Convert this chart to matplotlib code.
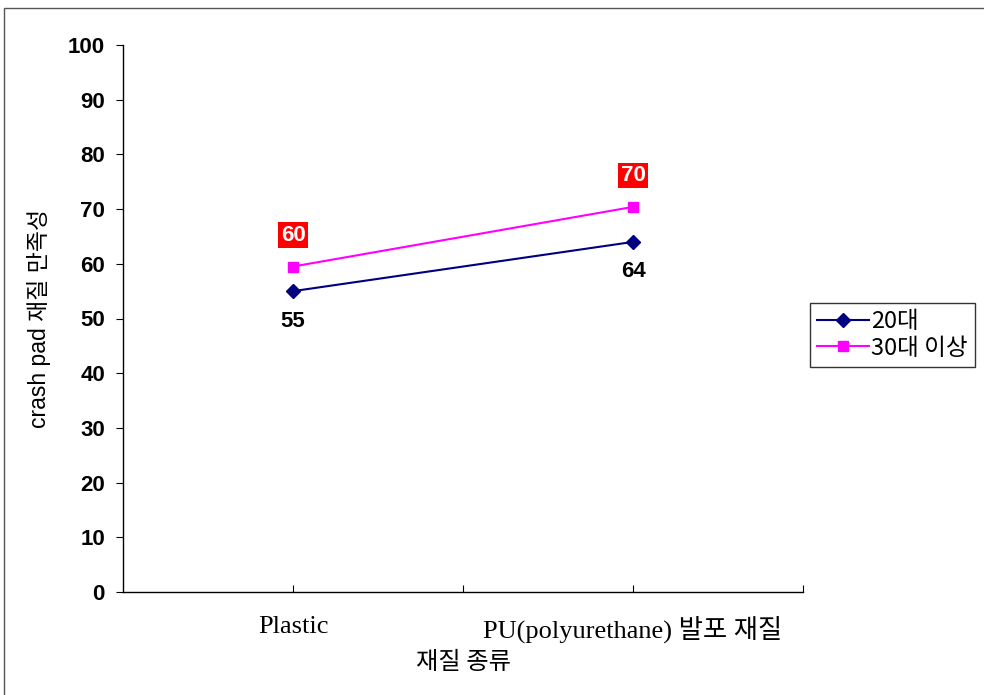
import matplotlib
matplotlib.use("Agg")
import matplotlib.pyplot as plt
from matplotlib.patches import Rectangle

categories = ["Plastic", "PU(polyurethane) 발포 재질"]
series_names = ["20대", "30대 이상"]
values_20 = [55, 64]
values_30 = [59.5, 70.4]
yticks = [0, 10, 20, 30, 40, 50, 60, 70, 80, 90, 100]

fig = plt.figure(figsize=(9.84, 6.95), dpi=100)
fig.patches.append(Rectangle((4/984, -0.05), 1.2, 1 - 8/695 + 0.05,
                             transform=fig.transFigure, fill=False,
                             edgecolor="#555555", linewidth=1.0))
ax = fig.add_axes([123/984, 1 - 592/695, 680/984, 547/695])

xpos = [0, 2]
ax.plot(xpos, values_20, color="#000080", marker="D", markersize=7, linewidth=1.5, label=series_names[0])
ax.plot(xpos, values_30, color="#FF00FF", marker="s", markersize=7, linewidth=1.5, label=series_names[1])

for x, v in zip(xpos, values_20):
    ax.annotate(f"{v:.0f}", (x, v), xytext=(0, -14), textcoords="offset points",
                ha="center", va="top", fontsize=16, fontweight="bold",
                family=["Liberation Sans", "DejaVu Sans"], color="black")
for x, v in zip(xpos, values_30):
    ax.annotate(f"{v:.0f}", (x, v), xytext=(0, 15), textcoords="offset points",
                ha="center", va="bottom", fontsize=16, fontweight="bold",
                family=["Liberation Sans", "DejaVu Sans"], color="white",
                bbox=dict(boxstyle="square,pad=0.1", facecolor="#FF0000", edgecolor="none"))

ax.set_xlim(-1, 3)
ax.set_ylim(0, 100)
ax.set_yticks(yticks)
ax.set_yticklabels([str(t) for t in yticks], fontsize=16, fontweight="bold",
                   family=["Liberation Sans", "DejaVu Sans"])
ax.set_xticks([0, 1, 2, 3])
ax.set_xticklabels([categories[0], "", categories[1], ""], fontsize=19,
                   family=["Liberation Serif", "Noto Sans CJK KR"])
ax.tick_params(axis="x", direction="in", length=5, pad=17)
ax.tick_params(axis="y", direction="out", length=5, pad=8)
for s in ["top", "right"]:
    ax.spines[s].set_visible(False)
for s in ["left", "bottom"]:
    ax.spines[s].set_color("black")
    ax.spines[s].set_linewidth(1.0)

ax.set_ylabel("crash pad 재질 만족성", fontsize=16.5, family=["Liberation Sans", "Noto Sans CJK KR"], labelpad=12)
ax.set_xlabel("재질 종류", fontsize=17.5, family=["Noto Sans CJK KR", "DejaVu Sans"], labelpad=4)

leg = ax.legend(loc="upper left", bbox_to_anchor=(810/984, 1 - 303/695), bbox_transform=fig.transFigure,
                prop={"family": ["Noto Sans CJK KR", "DejaVu Sans"], "size": 17},
                frameon=True, fancybox=False, borderpad=0.3, handlelength=2.2,
                handletextpad=0.1, labelspacing=0.15, borderaxespad=0)
leg.get_frame().set_edgecolor("black")
leg.get_frame().set_linewidth(1.0)

fig.savefig("out.png", dpi=100)
